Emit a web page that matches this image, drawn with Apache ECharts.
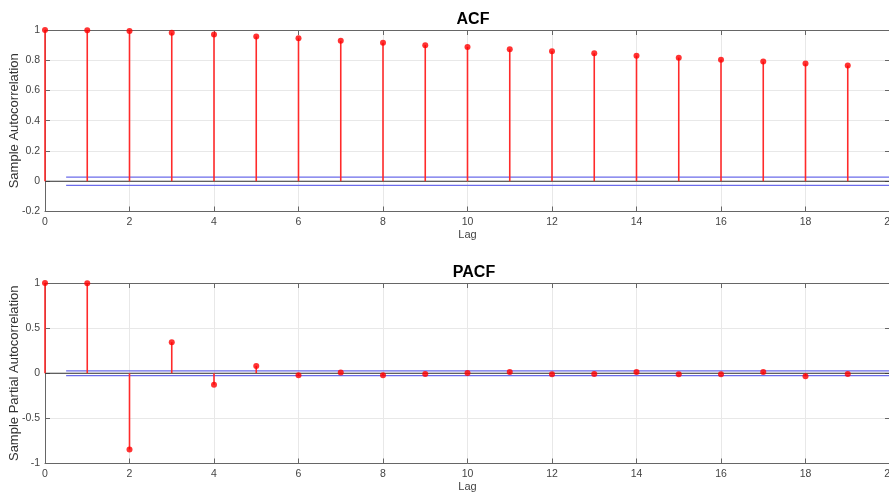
<!DOCTYPE html>
<html>
<head>
<meta charset="utf-8">
<script src="https://cdn.jsdelivr.net/npm/echarts@6/dist/echarts.min.js"></script>
<style>
  html, body { margin: 0; padding: 0; background: #fff; }
  #chart { width: 889px; height: 492px; }
</style>
</head>
<body>
<div id="chart"></div>
<script>
// lags 0..19, sample ACF / PACF
var lags = [0, 1, 2, 3, 4, 5, 6, 7, 8, 9, 10, 11, 12, 13, 14, 15, 16, 17, 18, 19];
var acfValues = [1, 0.999, 0.993, 0.982, 0.970, 0.957, 0.945, 0.929, 0.915, 0.900,
  0.888, 0.872, 0.859, 0.846, 0.830, 0.817, 0.804, 0.791, 0.778, 0.765];
var pacfValues = [1, 0.998, -0.844, 0.344, -0.127, 0.081, -0.022, 0.007, -0.022, -0.008,
  0.004, 0.014, -0.011, -0.008, 0.014, -0.011, -0.011, 0.014, -0.033, -0.008];
var confBound = 0.027;          // +/- confidence bound
var boundLags = [0.5, 20];      // bound lines run from lag 0.5 to the right edge
var zeroLags = [0, 20];

var FONT = '"Liberation Sans", Arial, sans-serif';
var TXT = '#444';
var AXC = '#666';

function pairs(xs, ys) {
  return xs.map(function (x, i) { return [x, ys[i]]; });
}
function flat(xs, v) {
  return xs.map(function (x) { return [x, v]; });
}

function xAx(gi, pos, show) {
  return {
    type: 'value', gridIndex: gi, position: pos, min: 0, max: 20, interval: 2,
    name: show ? 'Lag' : '', nameLocation: 'middle', nameGap: 18, nameMoveOverlap: false,
    nameTextStyle: { color: TXT, fontSize: 11, fontFamily: FONT },
    axisLine: { show: true, onZero: false, lineStyle: { color: AXC, width: 1 } },
    axisTick: { show: true, inside: true, length: 5, lineStyle: { color: AXC } },
    axisLabel: { show: show, color: TXT, fontSize: 10.5, fontFamily: FONT, margin: 5 },
    splitLine: { show: show, lineStyle: { color: '#e8e8e8', width: 1 } }
  };
}
function yAx(gi, pos, show, min, max, interval, name) {
  return {
    type: 'value', gridIndex: gi, position: pos, min: min, max: max, interval: interval,
    name: show ? name : '', nameLocation: 'middle', nameGap: 24, nameMoveOverlap: false,
    nameTextStyle: { color: '#333', fontSize: 13, fontFamily: FONT },
    axisLine: { show: true, onZero: false, lineStyle: { color: AXC, width: 1 } },
    axisTick: { show: true, inside: true, length: 5, lineStyle: { color: AXC } },
    axisLabel: { show: show, color: TXT, fontSize: 10.5, fontFamily: FONT, margin: 5 },
    splitLine: { show: show, lineStyle: { color: '#e8e8e8', width: 1 } }
  };
}

function stemSeries(xi, yi, values) {
  return [
    {
      type: 'line', xAxisIndex: xi, yAxisIndex: yi, data: flat(zeroLags, 0),
      symbol: 'none', lineStyle: { color: '#333', width: 1 }, z: 2, silent: true
    },
    {
      type: 'line', xAxisIndex: xi, yAxisIndex: yi, data: flat(boundLags, confBound),
      symbol: 'none', lineStyle: { color: '#6b6bea', width: 1.3 }, z: 2, silent: true
    },
    {
      type: 'line', xAxisIndex: xi, yAxisIndex: yi, data: flat(boundLags, -confBound),
      symbol: 'none', lineStyle: { color: '#6b6bea', width: 1.3 }, z: 2, silent: true
    },
    {
      type: 'bar', xAxisIndex: xi, yAxisIndex: yi, data: pairs(lags, values),
      barWidth: 1.6, itemStyle: { color: '#ff2a2a' }, z: 3
    },
    {
      type: 'scatter', xAxisIndex: xi, yAxisIndex: yi, data: pairs(lags, values),
      symbol: 'circle', symbolSize: 6, itemStyle: { color: '#ff0000' }, z: 4
    }
  ];
}

var chart = echarts.init(document.getElementById('chart'), null, { renderer: 'canvas' });
chart.setOption({
  animation: false,
  backgroundColor: '#ffffff',
  title: [
    { text: 'ACF', left: 468, top: 7, textAlign: 'center',
      textStyle: { fontSize: 16, fontWeight: 'bold', color: '#000', fontFamily: FONT } },
    { text: 'PACF', left: 469, top: 260, textAlign: 'center',
      textStyle: { fontSize: 16, fontWeight: 'bold', color: '#000', fontFamily: FONT } }
  ],
  grid: [
    { left: 45, top: 30, width: 845, height: 181.5, containLabel: false, outerBoundsMode: 'none' },
    { left: 45, top: 283, width: 845, height: 180.5, containLabel: false, outerBoundsMode: 'none' }
  ],
  xAxis: [xAx(0, 'bottom', true), xAx(0, 'top', false), xAx(1, 'bottom', true), xAx(1, 'top', false)],
  yAxis: [
    yAx(0, 'left', true, -0.2, 1, 0.2, 'Sample Autocorrelation'),
    yAx(0, 'right', false, -0.2, 1, 0.2, ''),
    yAx(1, 'left', true, -1, 1, 0.5, 'Sample Partial Autocorrelation'),
    yAx(1, 'right', false, -1, 1, 0.5, '')
  ],
  series: stemSeries(0, 0, acfValues).concat(stemSeries(2, 2, pacfValues))
});
</script>
</body>
</html>
